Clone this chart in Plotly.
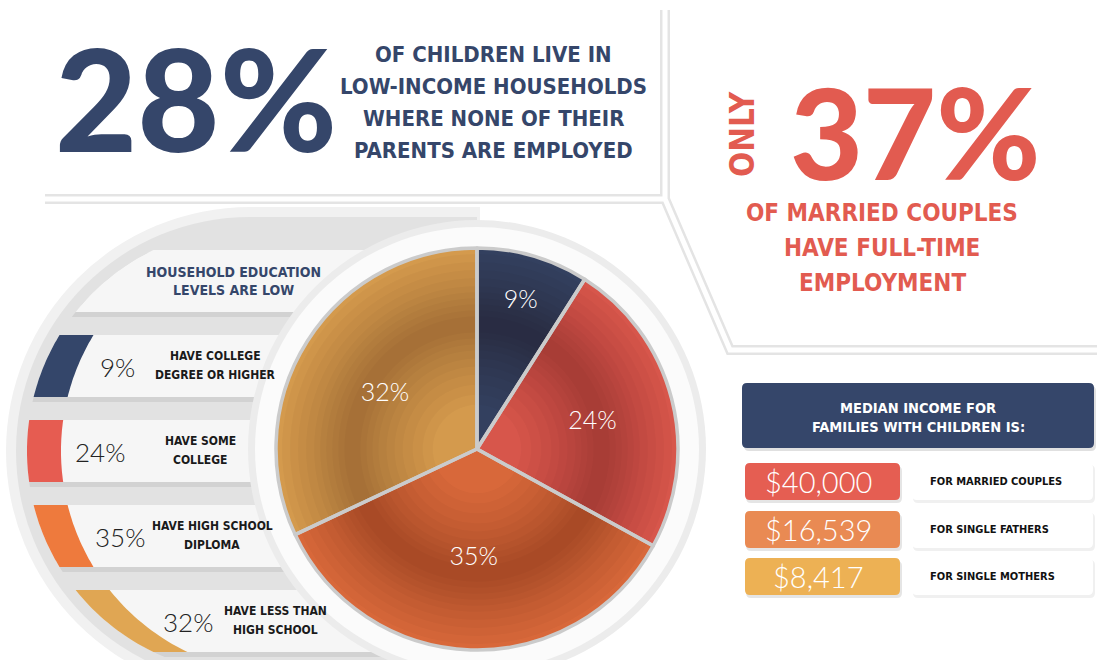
import numpy as np
import plotly.graph_objects as go

W, H = 1097, 660

# ---- data ----
headline_pct = "28%"
headline_lines = ["OF CHILDREN LIVE IN", "LOW-INCOME HOUSEHOLDS",
                  "WHERE NONE OF THEIR", "PARENTS ARE EMPLOYED"]
married_pct = "37%"
married_lines = ["OF MARRIED COUPLES", "HAVE FULL-TIME", "EMPLOYMENT"]

edu_title = ["HOUSEHOLD EDUCATION", "LEVELS ARE LOW"]
edu_values = [9, 24, 35, 32]
edu_desc = [["HAVE COLLEGE", "DEGREE OR HIGHER"],
            ["HAVE SOME", "COLLEGE"],
            ["HAVE HIGH SCHOOL", "DIPLOMA"],
            ["HAVE LESS THAN", "HIGH SCHOOL"]]
pie_colors = ["#33405f", "#d7564b", "#d8683a", "#d49a4d"]
band_colors = ["#34466a", "#e65c51", "#ee7a3d", "#e0a653"]

income_title = ["MEDIAN INCOME FOR", "FAMILIES WITH CHILDREN IS:"]
income_groups = ["FOR MARRIED COUPLES", "FOR SINGLE FATHERS", "FOR SINGLE MOTHERS"]
income_values = [40000, 16539, 8417]
income_colors = ["#e55e52", "#e98a53", "#edb154"]

NAVY = "#35466a"
RED = "#e25b50"
COND = "Liberation Sans Narrow, Arial Narrow, DejaVu Sans Condensed, sans-serif"
SANS = "Lato, Open Sans, sans-serif"

# ---- layout geometry ----
pcx, pcy, pr = 477, 449, 201          # pie centre / radius (px)
bcx, bcy, br = 250, 451, 223          # big left circle
stripe_tops = [335, 420, 505, 590]
stripe_h = 62
pct_x = [117, 100, 120, 188]
desc_x = [215, 200, 212, 275]
row_tops = [463, 511, 558]
row_h = 37


def arc_x(y, r=br):
    return bcx - np.sqrt(np.maximum(r ** 2 - (y - bcy) ** 2, 0))


def pts_path(xs, ys):
    return "M" + " L".join(f"{x:.1f},{y:.1f}" for x, y in zip(xs, ys)) + " Z"


def stripe_path(y0, y1, x_right):
    ys = np.linspace(y0, y1, 24)
    xs = arc_x(ys)
    return pts_path(list(xs) + [x_right, x_right], list(ys) + [y1, y0])


def band_path(y0, y1, width=34):
    ys = np.linspace(y0, y1, 24)
    xs = arc_x(ys)
    return pts_path(list(xs) + list(xs[::-1] + width), list(ys) + list(ys[::-1]))


def rrect(x0, y0, x1, y1, r=5):
    return (f"M{x0+r},{y0} L{x1-r},{y0} Q{x1},{y0} {x1},{y0+r} L{x1},{y1-r} "
            f"Q{x1},{y1} {x1-r},{y1} L{x0+r},{y1} Q{x0},{y1} {x0},{y1-r} "
            f"L{x0},{y0+r} Q{x0},{y0} {x0+r},{y0} Z")


def circle(cx, cy, r, fill):
    return dict(type="circle", xref="x", yref="y", x0=cx - r, x1=cx + r,
                y0=cy - r, y1=cy + r, fillcolor=fill,
                line=dict(width=0, color=fill), layer="below")


def path(d, fill):
    return dict(type="path", xref="x", yref="y", path=d, fillcolor=fill,
                line=dict(width=0, color=fill), layer="below")


def dom(r):
    return dict(x=[(pcx - r) / W, (pcx + r) / W], y=[(H - pcy - r) / H, (H - pcy + r) / H])


shapes = []
# grey backdrop behind the education block
shapes.append(circle(bcx, bcy, 244, "#f1f1f1"))
shapes.append(path(f"M{bcx},{bcy-244} L480,{bcy-244} L480,660 L{bcx},660 Z", "#f1f1f1"))
shapes.append(circle(bcx, bcy, 234, "#e2e2e2"))
shapes.append(path(f"M{bcx},{bcy-234} L477,{bcy-234} L477,660 L{bcx},660 Z", "#e2e2e2"))

# stripes
all_tops = [250] + stripe_tops
for t in all_tops:
    shapes.append(path(stripe_path(t + 3, t + stripe_h + 5, 520), "rgba(0,0,0,0.07)"))
    shapes.append(path(stripe_path(t, t + stripe_h, 520), "#f6f6f6"))
for t, c in zip(stripe_tops, band_colors):
    shapes.append(path(band_path(t, t + stripe_h), c))

# halo around the pie
shapes.append(circle(pcx, pcy, 229, "#ececec"))
shapes.append(circle(pcx, pcy, 222, "#fbfbfb"))

# top frame lines
frame = "M45,199 L665,199 M665,10 L665,199 L730,350 L1097,350"
shapes.append(dict(type="path", xref="x", yref="y", path=frame,
                   line=dict(color="#e4e4e4", width=10), layer="below"))
shapes.append(dict(type="path", xref="x", yref="y", path=frame,
                   line=dict(color="#ffffff", width=5), layer="below"))

# income table
shapes.append(path(rrect(744, 386, 1096, 451), "rgba(0,0,0,0.12)"))
shapes.append(path(rrect(742, 383, 1094, 448), NAVY))
for t, c in zip(row_tops, income_colors):
    shapes.append(path(rrect(746, t + 3, 902, t + row_h + 3), "rgba(0,0,0,0.10)"))
    shapes.append(path(rrect(745, t, 900, t + row_h), c))
    shapes.append(path(rrect(913, t + 2, 1095, t + row_h + 3), "rgba(0,0,0,0.06)"))
    shapes.append(path(rrect(912, t, 1093, t + row_h), "#ffffff"))

ann = []


def txt(x, y, s, size, color, family=COND, weight="bold", anchor="center", angle=0):
    ann.append(dict(x=x, y=y, xref="x", yref="y", text=s, showarrow=False,
                    xanchor=anchor, yanchor="middle", textangle=angle,
                    font=dict(family=family, size=size, color=color, weight=weight)))


# headline
txt(196, 97, headline_pct, 142, NAVY, family=SANS, weight=900)
for i, s in enumerate(headline_lines):
    txt(493, 54 + i * 32, s, 22, NAVY)

# married couples
txt(742, 134, "ONLY", 33, RED, angle=-90)
txt(915, 131, married_pct, 126, RED, family=SANS, weight=900)
for i, s in enumerate(married_lines):
    txt(882, 213 + i * 35, s, 24, RED)

# education labels
for i, s in enumerate(edu_title):
    txt(233, 272 + i * 18, s, 14, NAVY)
for t, v, d, px_, dx in zip(stripe_tops, edu_values, edu_desc, pct_x, desc_x):
    mid = t + stripe_h / 2
    txt(px_, mid + 1, f"{v}%", 26, "#222222", family=SANS, weight=300)
    txt(dx, mid - 10, d[0], 12, "#1a1a1a")
    txt(dx, mid + 9, d[1], 12, "#1a1a1a")

# income labels
for i, s in enumerate(income_title):
    txt(918, 408 + i * 19, s, 14.5, "#ffffff")
for t, v, g in zip(row_tops, income_values, income_groups):
    mid = t + row_h / 2
    txt(818, mid, f"${v:,}", 29, "#ffffff", family=SANS, weight=300)
    txt(928, mid, g, 11, "#111111", anchor="left")

fig = go.Figure()
fig.add_trace(go.Scatter(x=[0, W], y=[0, H], mode="markers",
                         marker=dict(opacity=0), hoverinfo="skip", showlegend=False))

common = dict(values=edu_values, sort=False, direction="clockwise",
              showlegend=False, hoverinfo="skip")
fig.add_trace(go.Pie(marker=dict(colors=pie_colors, line=dict(width=0)),
                     textinfo="none", domain=dom(pr), **common))
# darker ring to mimic the shaded look
rings = [(0.22, 0.97), (0.27, 0.93), (0.32, 0.89), (0.37, 0.85), (0.41, 0.81),
         (0.45, 0.78), (0.49, 0.75), (0.52, 0.72), (0.55, 0.69), (0.58, 0.66)]
for inner, outer in rings:
    fig.add_trace(go.Pie(marker=dict(colors=["rgba(40,15,5,0.028)"] * 4, line=dict(width=0)),
                         textinfo="none", hole=inner / outer, domain=dom(pr * outer), **common))
fig.add_trace(go.Pie(marker=dict(colors=["rgba(0,0,0,0)"] * 4,
                                 line=dict(color="#cbcbcb", width=3.5)),
                     text=[f"{v}%" for v in edu_values], textinfo="text",
                     textposition="inside", insidetextorientation="horizontal",
                     textfont=dict(family=SANS, size=25, color="#ffffff", weight=300),
                     domain=dom(pr), **common))

fig.update_layout(
    width=W, height=H, margin=dict(l=0, r=0, t=0, b=0),
    paper_bgcolor="#ffffff", plot_bgcolor="rgba(0,0,0,0)",
    xaxis=dict(range=[0, W], visible=False, fixedrange=True),
    yaxis=dict(range=[H, 0], visible=False, fixedrange=True),
    shapes=shapes, annotations=ann,
)
fig.write_html("out.html", config={"displayModeBar": False},
               post_script="document.body.style.margin='0';")
